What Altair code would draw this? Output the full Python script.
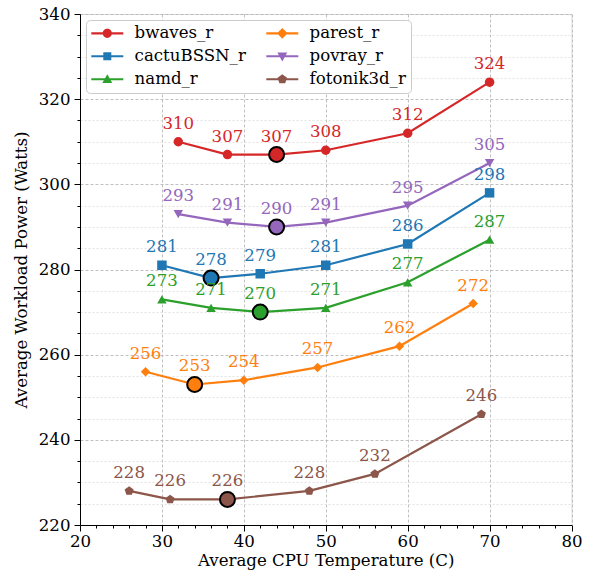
import altair as alt
import pandas as pd

# ---- data ----
series_order = ["bwaves_r", "cactuBSSN_r", "namd_r", "parest_r", "povray_r", "fotonik3d_r"]
colors = ["#d62728", "#1f77b4", "#2ca02c", "#ff7f0e", "#9467bd", "#8c564b"]

bwaves_x = [32, 38, 44, 50, 60, 70]
bwaves_y = [310, 307, 307, 308, 312, 324]
cactu_x = [30, 36, 42, 50, 60, 70]
cactu_y = [281, 278, 279, 281, 286, 298]
namd_x = [30, 36, 42, 50, 60, 70]
namd_y = [273, 271, 270, 271, 277, 287]
parest_x = [28, 34, 40, 49, 59, 68]
parest_y = [256, 253, 254, 257, 262, 272]
povray_x = [32, 38, 44, 50, 60, 70]
povray_y = [293, 291, 290, 291, 295, 305]
fotonik_x = [26, 31, 38, 48, 56, 69]
fotonik_y = [228, 226, 226, 228, 232, 246]

# index of the highlighted (minimum) point in each series
highlight_idx = {"bwaves_r": 2, "cactuBSSN_r": 1, "namd_r": 2,
                 "parest_r": 1, "povray_r": 2, "fotonik3d_r": 2}

series_data = {
    "bwaves_r": (bwaves_x, bwaves_y),
    "cactuBSSN_r": (cactu_x, cactu_y),
    "namd_r": (namd_x, namd_y),
    "parest_r": (parest_x, parest_y),
    "povray_r": (povray_x, povray_y),
    "fotonik3d_r": (fotonik_x, fotonik_y),
}

rows = []
for name, (xs, ys) in series_data.items():
    for i, (xv, yv) in enumerate(zip(xs, ys)):
        rows.append({"series": name, "temp": xv, "power": yv,
                     "hl": i == highlight_idx[name]})
df = pd.DataFrame(rows)

FONT = "DejaVu Serif"
FS = 16.6

pentagon = "M0,-1L0.951,-0.309L0.588,0.809L-0.588,0.809L-0.951,-0.309Z"
marker_shapes = ["circle", "square", "triangle-up", "diamond", "triangle-down", pentagon]

# legend symbols: line segment plus marker (unit = 8px at size 256)
LINE = "M-1,-0.13H3V0.13H-1Z"
leg_circle = LINE + "M1.58,0A0.58,0.58 0 1,1 0.42,0A0.58,0.58 0 1,1 1.58,0Z"
leg_square = LINE + "M0.5,-0.5H1.5V0.5H0.5Z"
leg_tri_up = LINE + "M1,-0.64L1.62,0.46L0.38,0.46Z"
leg_tri_down = LINE + "M0.38,-0.46L1.62,-0.46L1,0.64Z"
leg_diamond = LINE + "M1,-0.66L1.66,0L1,0.66L0.34,0Z"
leg_pent = LINE + "M1,-0.62L1.59,-0.19L1.365,0.5L0.635,0.5L0.41,-0.19Z"
legend_shapes = [leg_circle, leg_square, leg_tri_up, leg_diamond, leg_tri_down, leg_pent]

color_scale = alt.Scale(domain=series_order, range=colors)

x_vals = list(range(20, 81, 2))
y_vals = list(range(220, 341, 5))

x_axis = alt.Axis(
    title="Average CPU Temperature (C)",
    values=x_vals,
    labelExpr="datum.value % 10 === 0 ? datum.label : ''",
    tickSize={"condition": {"test": "datum.value % 10 === 0", "value": 6}, "value": 3},
    gridOpacity={"condition": {"test": "datum.value % 10 === 0", "value": 1}, "value": 0},
    gridColor="#b0b0b0", gridDash=[3, 2], gridWidth=0.8,
    domainColor="black", tickColor="black", labelColor="black", titleColor="black",
    labelFont=FONT, titleFont=FONT, labelFontSize=FS, titleFontSize=FS,
    titleFontWeight="normal", labelPadding=2, titlePadding=3, labelFlush=False,
)
y_axis = alt.Axis(
    title="Average Workload Power (Watts)",
    values=y_vals,
    labelExpr="datum.value % 20 === 0 ? datum.label : ''",
    tickSize={"condition": {"test": "datum.value % 20 === 0", "value": 6}, "value": 3},
    gridColor={"condition": {"test": "datum.value % 20 === 0", "value": "#b0b0b0"}, "value": "#dcdcdc"},
    gridDash={"condition": {"test": "datum.value % 20 === 0", "value": [3, 2]}, "value": [2, 2]},
    gridWidth=0.8,
    domainColor="black", tickColor="black", labelColor="black", titleColor="black",
    labelFont=FONT, titleFont=FONT, labelFontSize=FS, titleFontSize=FS,
    titleFontWeight="normal", labelPadding=4, titlePadding=9, labelFlush=False,
)

base = alt.Chart(df).encode(
    x=alt.X("temp:Q", scale=alt.Scale(domain=[20, 80], nice=False, zero=False), axis=x_axis),
    y=alt.Y("power:Q", scale=alt.Scale(domain=[220, 340], nice=False, zero=False), axis=y_axis),
)

lines = base.mark_line(strokeWidth=2.2).encode(
    color=alt.Color("series:N", scale=color_scale, legend=None),
    detail="series:N",
)

points = base.mark_point(filled=True, size=90, opacity=1).encode(
    color=alt.Color("series:N", scale=color_scale, legend=None),
    shape=alt.Shape("series:N", scale=alt.Scale(domain=series_order, range=marker_shapes), legend=None),
)

highlight = base.transform_filter("datum.hl").mark_point(
    filled=True, shape="circle", size=225, stroke="black", strokeWidth=2, opacity=1
).encode(
    fill=alt.Fill("series:N", scale=color_scale, legend=None),
)

labels = base.mark_text(font=FONT, fontSize=FS, baseline="alphabetic", dy=-13).encode(
    text="power:Q",
    color=alt.Color("series:N", scale=color_scale, legend=None),
)

def make_legend():
    return alt.Legend(
        title=None, orient="none", legendX=6, legendY=6, columns=2,
        columnPadding=20, rowPadding=6, symbolSize=256, symbolOpacity=1,
        symbolStrokeWidth=0,
        labelFont=FONT, labelFontSize=FS, labelColor="black", labelOffset=27,
        padding=5, fillColor="white", strokeColor="#cccccc", cornerRadius=4,
        labelLimit=300,
    )

legend_layer = base.mark_point(filled=True, size=256, opacity=0).encode(
    color=alt.Color("series:N", scale=color_scale, legend=make_legend()),
    shape=alt.Shape("series:N", scale=alt.Scale(domain=series_order, range=legend_shapes),
                    legend=make_legend()),
)

chart = alt.layer(lines, points, highlight, labels, legend_layer).resolve_scale(
    color="independent", shape="independent"
).properties(
    width=491.5, height=511,
    autosize=alt.AutoSizeParams(type="none"),
    padding={"left": 80, "top": 14, "right": 18, "bottom": 48},
).configure_view(stroke="black", strokeWidth=1.2).configure(background="white")

chart.save("out.html", embed_options={"renderer": "svg", "actions": False})
